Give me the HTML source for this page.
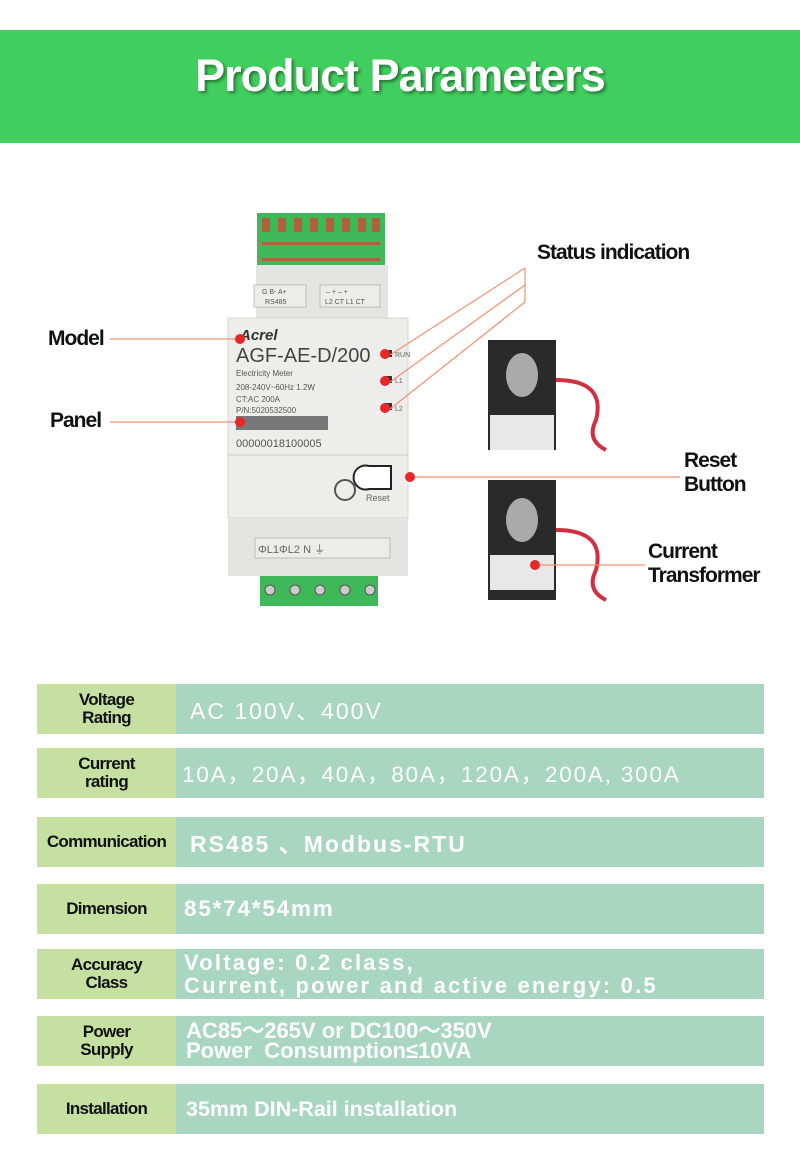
<!DOCTYPE html>
<html><head><meta charset="utf-8"><style>
*{margin:0;padding:0;box-sizing:border-box}
body{width:800px;height:1152px;background:#fff;position:relative;overflow:hidden;font-family:"Liberation Sans",sans-serif}
.abs{position:absolute}
.hdr{left:0;top:30px;width:800px;height:113px;background:#40cf5e}
.title{left:0;top:50px;width:800px;text-align:center;color:#fff;font-weight:bold;font-size:45px;letter-spacing:-1px;text-shadow:2px 2px 3px rgba(0,0,0,.45)}
.row{position:absolute;left:37px;width:727px;height:50px;display:flex}
.l{width:139px;background:#c6e0a2;display:flex;align-items:center;justify-content:center;text-align:center;font-weight:bold;font-size:17px;line-height:18px;color:#111;letter-spacing:-.7px}
.r{flex:1;background:#a8d6c0;color:#fff;display:flex;align-items:center;padding-left:10px;font-size:22px;letter-spacing:2px;white-space:nowrap}
.b{font-weight:bold}
.lab{font-weight:bold;font-size:21px;color:#111;letter-spacing:-1px;line-height:24px}
.dot{position:absolute;width:10px;height:10px;border-radius:50%;background:#e8262a}
</style></head><body>
<div class="abs hdr"></div>
<div class="abs title">Product Parameters</div>

<svg class="abs" style="left:0;top:150px" width="800" height="520">
<rect x="257" y="63" width="128" height="55" fill="#3fb85a"/>
<g fill="#b0603a">
<rect x="262" y="68" width="8" height="14"/><rect x="278" y="68" width="8" height="14"/><rect x="294" y="68" width="8" height="14"/><rect x="310" y="68" width="8" height="14"/><rect x="326" y="68" width="8" height="14"/><rect x="342" y="68" width="8" height="14"/><rect x="358" y="68" width="8" height="14"/><rect x="372" y="68" width="8" height="14"/>
<rect x="262" y="92" width="118" height="3"/><rect x="262" y="108" width="118" height="3"/></g>
<rect x="256" y="115" width="132" height="60" fill="#e4e4e2"/>
<rect x="254" y="135" width="52" height="22" fill="#ececea" stroke="#bbb"/>
<rect x="320" y="135" width="60" height="22" fill="#ececea" stroke="#bbb"/>
<text x="262" y="144" font-size="7" fill="#555">G  B-  A+</text><text x="265" y="154" font-size="7" fill="#555">RS485</text>
<text x="326" y="144" font-size="7" fill="#555">–  +  –  +</text><text x="325" y="154" font-size="7" fill="#555">L2 CT L1 CT</text>
<rect x="228" y="168" width="180" height="200" fill="#ededeb" stroke="#d4d4d2"/>
<text x="240" y="190" font-size="15" font-style="italic" font-weight="bold" fill="#333">Acrel</text>
<text x="236" y="212" font-size="20" fill="#444">AGF-AE-D/200</text>
<text x="236" y="226" font-size="8" fill="#555">Electricity Meter</text>
<text x="236" y="240" font-size="8" fill="#555">208-240V~60Hz 1.2W</text>
<text x="236" y="252" font-size="8" fill="#555">CT:AC 200A</text>
<text x="236" y="263" font-size="8" fill="#555">P/N:5020532500</text>
<rect x="236" y="266" width="92" height="14" fill="#777"/>
<text x="236" y="297" font-size="11" fill="#555">00000018100005</text>
<rect x="384" y="200" width="8" height="7" fill="#333"/><rect x="384" y="226" width="8" height="7" fill="#333"/><rect x="384" y="253" width="8" height="7" fill="#333"/>
<text x="395" y="207" font-size="7" fill="#666">RUN</text><text x="395" y="233" font-size="7" fill="#666">L1</text><text x="395" y="261" font-size="7" fill="#666">L2</text>
<line x1="228" y1="305" x2="408" y2="305" stroke="#ccc"/>
<circle cx="345" cy="340" r="10" fill="none" stroke="#555" stroke-width="2"/>
<path d="M369 316 a12 12 0 1 0 0 23 h22 v-23z" fill="#fff" stroke="#222" stroke-width="2"/>
<text x="366" y="351" font-size="9" fill="#666">Reset</text>
<rect x="228" y="368" width="180" height="58" fill="#e4e4e2"/>
<rect x="255" y="388" width="135" height="20" fill="#ececea" stroke="#bbb"/>
<text x="258" y="403" font-size="11" fill="#666">ΦL1ΦL2  N       ⏚</text>
<rect x="260" y="426" width="118" height="30" fill="#3fb85a"/>
<g fill="#ccc" stroke="#555"><circle cx="270" cy="440" r="5"/><circle cx="295" cy="440" r="5"/><circle cx="320" cy="440" r="5"/><circle cx="345" cy="440" r="5"/><circle cx="370" cy="440" r="5"/></g>
<rect x="488" y="190" width="68" height="110" fill="#2a2a2a"/><ellipse cx="522" cy="225" rx="16" ry="22" fill="#aaa"/><rect x="490" y="265" width="64" height="35" fill="#e8e8e8"/>
<path d="M556 230 q50 0 40 40 q-10 20 10 30" stroke="#d03040" stroke-width="4" fill="none"/>
<rect x="488" y="330" width="68" height="120" fill="#2a2a2a"/><ellipse cx="522" cy="370" rx="16" ry="22" fill="#aaa"/><rect x="490" y="405" width="64" height="35" fill="#e8e8e8"/>
<path d="M556 380 q50 0 40 40 q-10 20 10 30" stroke="#d03040" stroke-width="4" fill="none"/>
<g stroke="#f29070" stroke-width="1.2" fill="none">
<line x1="110" y1="189" x2="240" y2="189"/><line x1="110" y1="272" x2="240" y2="272"/>
<line x1="390" y1="205" x2="525" y2="118"/><line x1="390" y1="232" x2="525" y2="135"/><line x1="390" y1="259" x2="525" y2="152"/>
<line x1="525" y1="118" x2="525" y2="152"/>
<line x1="410" y1="327" x2="680" y2="327"/><line x1="535" y1="415" x2="645" y2="415"/>
</g>
</svg>
<div class="dot" style="left:235px;top:334px"></div>
<div class="dot" style="left:235px;top:417px"></div>
<div class="dot" style="left:380px;top:349px"></div>
<div class="dot" style="left:380px;top:376px"></div>
<div class="dot" style="left:380px;top:403px"></div>
<div class="dot" style="left:405px;top:472px"></div>
<div class="dot" style="left:530px;top:560px"></div>
<div class="abs lab" style="left:48px;top:327px">Model</div>
<div class="abs lab" style="left:50px;top:409px">Panel</div>
<div class="abs lab" style="left:537px;top:241px">Status indication</div>
<div class="abs lab" style="left:684px;top:449px">Reset<br>Button</div>
<div class="abs lab" style="left:648px;top:540px">Current<br>Transformer</div>

<div class="row" style="top:684px"><div class="l">Voltage<br>Rating</div><div class="r" style="padding-left:14px;font-size:23px">AC 100V、400V</div></div>
<div class="row" style="top:748px"><div class="l">Current<br>rating</div><div class="r" style="padding-left:6px;font-size:22.5px;letter-spacing:1.8px">10A，20A，40A，80A，120A，200A, 300A</div></div>
<div class="row" style="top:817px"><div class="l">Communication</div><div class="r b" style="padding-left:14px;font-size:23px;letter-spacing:2px">RS485 、Modbus-RTU</div></div>
<div class="row" style="top:884px"><div class="l">Dimension</div><div class="r b" style="padding-left:8px;font-size:22.5px;letter-spacing:1.8px">85*74*54mm</div></div>
<div class="row" style="top:949px"><div class="l">Accuracy<br>Class</div><div class="r b" style="padding-left:8px;font-size:22px;letter-spacing:2.2px;line-height:23px">Voltage: 0.2 class,<br>Current, power and active energy: 0.5</div></div>
<div class="row" style="top:1016px"><div class="l">Power<br>Supply</div><div class="r b" style="padding-left:10px;font-size:22px;line-height:20px;letter-spacing:0">AC85～265V or DC100～350V<br>Power &nbsp;Consumption≤10VA</div></div>
<div class="row" style="top:1084px"><div class="l">Installation</div><div class="r b" style="padding-left:10px;font-size:21.5px;letter-spacing:0">35mm DIN-Rail installation</div></div>
</body></html>
